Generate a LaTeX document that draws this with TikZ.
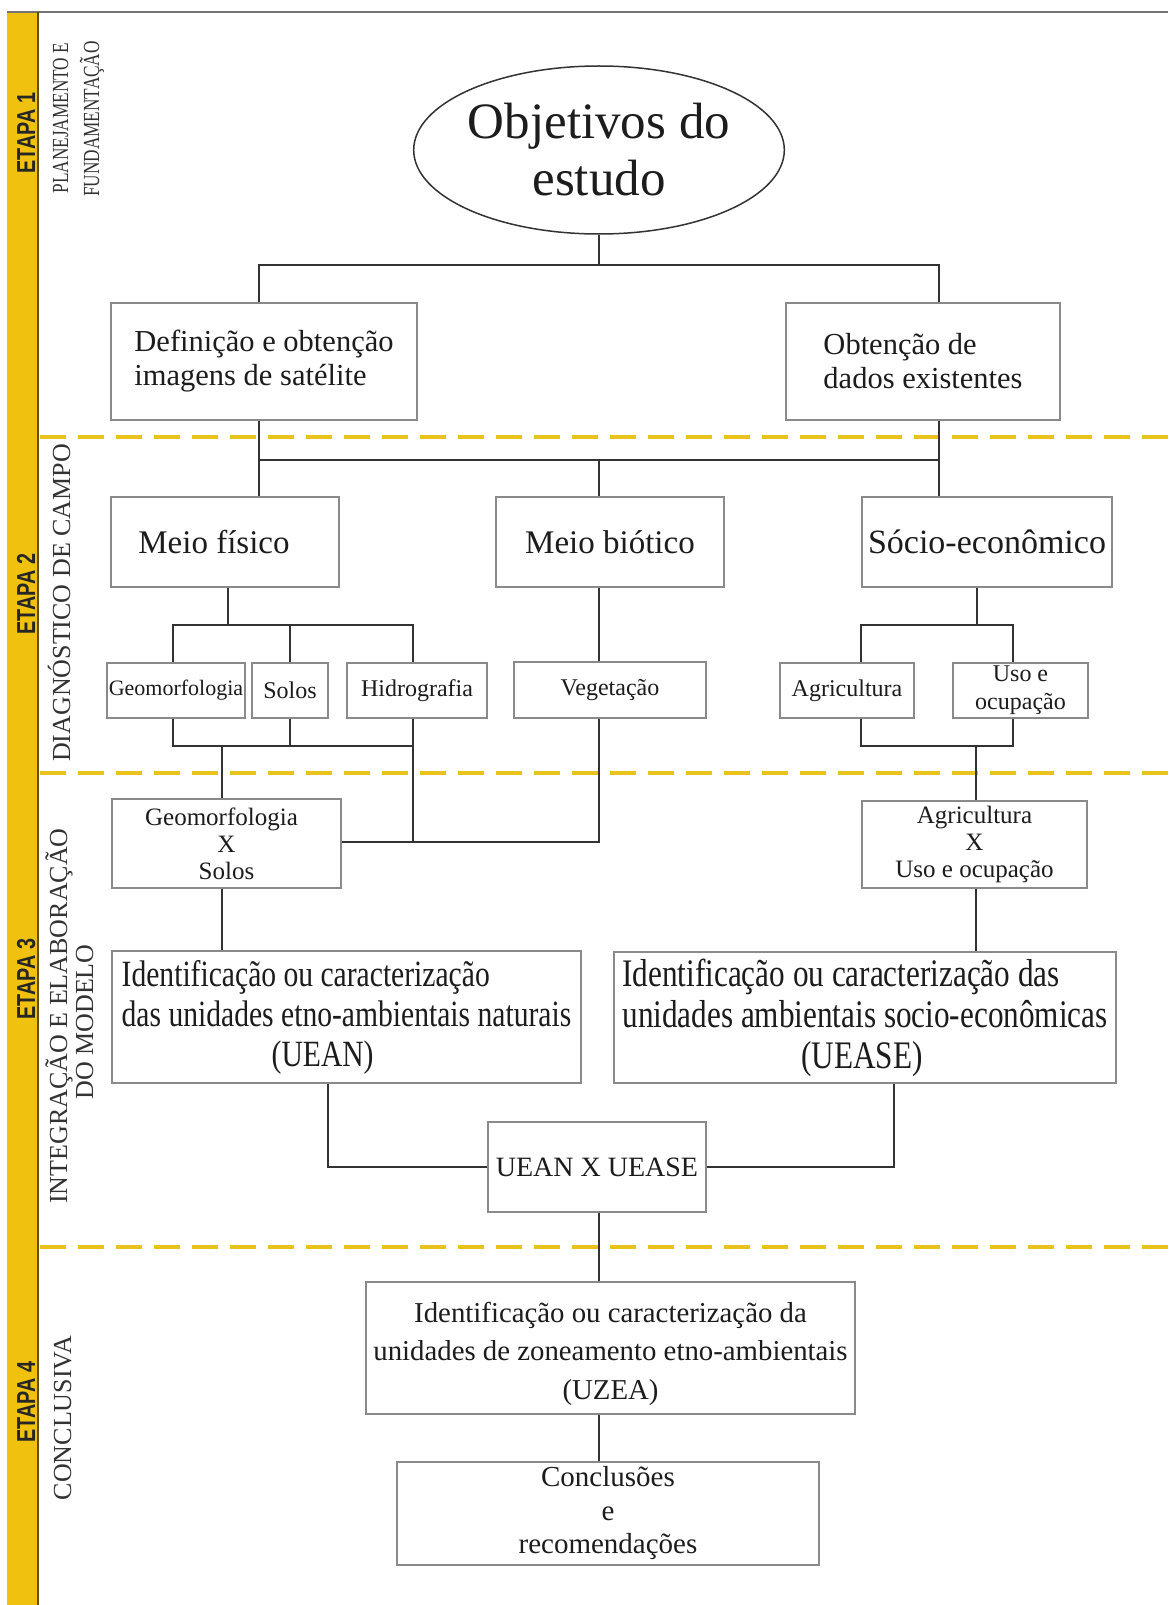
\documentclass[tikz,border=0pt]{standalone}
\usepackage{fontspec}
\setmainfont{Liberation Serif}
\newfontfamily\condA[FakeStretch=0.8]{Liberation Serif}
\newfontfamily\condB[FakeStretch=0.75]{Liberation Serif}
\newfontfamily\etapaf[FakeStretch=0.76]{Liberation Sans}
\usetikzlibrary{shapes.geometric}
\definecolor{barc}{HTML}{F0C10E}
\definecolor{dashc}{HTML}{E9C31C}
\definecolor{edgec}{HTML}{8A8A8A}
\definecolor{connc}{HTML}{333333}
\definecolor{txt}{HTML}{1C1C1C}
\newcommand\fs[2]{\fontsize{#1pt}{#2pt}\selectfont}
\begin{document}
\begin{tikzpicture}[x=1pt,y=-1pt,
  bx/.style={draw=edgec, line width=1.5pt, rectangle, inner sep=0pt, align=center, text=txt},
  ln/.style={draw=connc, line width=2.2pt},
  dl/.style={draw=dashc, line width=4pt, dash pattern=on 26pt off 12pt},
  etp/.style={rotate=90, anchor=base, inner sep=0pt, text=black!85, font=\etapaf\bfseries\fs{26}{26}},
  stg/.style={rotate=90, anchor=base, inner sep=0pt, text=black!80, font=\fs{26}{26}}]
\useasboundingbox (0,0) rectangle (1168,1605);
\fill[white] (0,0) rectangle (1168,1605);
% frame
\fill[barc] (7,12) rectangle (38,1605);
\draw[line width=2pt, black!55] (7,12) -- (1168,12);
\draw[line width=2pt, black!60!barc] (38,12) -- (38,1605);
% dashed separators
\draw[dl] (40,437) -- (1168,437);
\draw[dl] (40,773) -- (1168,773);
\draw[dl] (40,1247) -- (1168,1247);
% stage labels
\node[etp] (et1) at (35,133) {ETAPA 1};
\node[etp] (et2) at (35,594) {ETAPA 2};
\node[etp] (et3) at (35,979) {ETAPA 3};
\node[etp] (et4) at (35,1402) {ETAPA 4};
\node[stg, font=\condB\fs{23}{23}] (s1a) at (68,118) {PLANEJAMENTO E};
\node[stg, font=\condB\fs{23}{23}] (s1b) at (99,119) {FUNDAMENTAÇÃO};
\node[stg] (s2) at (70,603) {DIAGNÓSTICO DE CAMPO};
\node[stg] (s3a) at (67,1016) {INTEGRAÇÃO E ELABORAÇÃO};
\node[stg] (s3b) at (93,1022) {DO MODELO};
\node[stg] (s4) at (71,1418) {CONCLUSIVA};
% nodes
\node[ellipse, draw=connc, line width=1.5pt, inner sep=0pt, minimum width=364pt, minimum height=168pt,
      align=center, text=txt, font=\fs{51}{57}] (obj) at (599,150) {Objetivos do\\estudo};
\node[bx, align=left, minimum width=306pt, minimum height=117pt, font=\fs{30.5}{34}] (def) at (264,361.5)
  {Definição e obtenção\\imagens de satélite};
\node[bx, align=left, minimum width=274pt, minimum height=117pt, font=\fs{30.5}{34}] (obt) at (923,361.5)
  {Obtenção de\\dados existentes};
\node[bx, minimum width=228pt, minimum height=90pt, font=\fs{33}{33}] (mf) at (225,542) {Meio físico\hspace*{22pt}};
\node[bx, minimum width=228pt, minimum height=90pt, font=\fs{33}{33}] (mb) at (610,542) {Meio biótico};
\node[bx, minimum width=250pt, minimum height=90pt, font=\fs{34}{34}] (se) at (987,542) {Sócio-econômico};
\node[bx, minimum width=138pt, minimum height=55pt, font=\fs{22}{22}] (geo) at (176,690.5) {Geomorfologia};
\node[bx, minimum width=76pt, minimum height=55pt, font=\fs{24}{24}] (sol) at (290,690.5) {Solos};
\node[bx, minimum width=140pt, minimum height=55pt, font=\fs{24}{24}] (hid) at (417,690.5) {Hidrografia};
\node[bx, minimum width=192pt, minimum height=56pt, font=\fs{24}{24}] (veg) at (610,690) {Vegetação};
\node[bx, minimum width=134pt, minimum height=55pt, font=\fs{24}{24}] (agr) at (847,690.5) {Agricultura};
\node[bx, minimum width=135pt, minimum height=55pt, font=\fs{24}{28}] (uso) at (1020.5,690.5) {Uso e\\ocupação};
\node[bx, minimum width=229pt, minimum height=89pt, font=\fs{25}{27}] (gxs) at (226.5,843.5)
  {Geomorfologia\hspace*{10pt}\\X\\Solos};
\node[bx, minimum width=225pt, minimum height=87pt, font=\fs{25}{27}] (axu) at (974.5,844.5)
  {Agricultura\\X\\Uso e ocupação};
\node[bx, align=left, minimum width=469pt, minimum height=132pt, font=\condA\fs{37}{40}] (uean) at (346.5,1017)
  {Identificação ou caracterização\\das unidades etno-ambientais naturais\\\hspace*{150pt}(UEAN)};
\node[bx, align=left, minimum width=502pt, minimum height=131pt, font=\condA\fs{39}{41}] (uease) at (865,1017.5)
  {Identificação ou caracterização das\\unidades ambientais socio-econômicas\\\hspace*{179pt}(UEASE)};
\node[bx, minimum width=218pt, minimum height=90pt, font=\fs{28}{28}] (ux) at (597,1167) {UEAN X UEASE};
\node[bx, minimum width=489pt, minimum height=132pt, font=\fs{28.8}{38.5}] (uzea) at (610.5,1348)
  {\rule{0pt}{32pt}Identificação ou caracterização da\\unidades de zoneamento etno-ambientais\\(UZEA)};
\node[bx, minimum width=422pt, minimum height=103pt, font=\fs{29}{33.5}] (conc) at (608,1513.5)
  {Conclusões\\e\\recomendações};
% junction coordinates
\coordinate (a1) at (259,265); \coordinate (a2) at (939,265);
\coordinate (b1) at (259,460); \coordinate (b2) at (939,460); \coordinate (b3) at (599,460);
\coordinate (c0) at (228,625); \coordinate (c1) at (173,625); \coordinate (c2) at (290,625); \coordinate (c3) at (413,625);
\coordinate (e0) at (977,625); \coordinate (e1) at (861,625); \coordinate (e2) at (1013,625);
\coordinate (f0) at (222,746); \coordinate (f1) at (173,746); \coordinate (f2) at (290,746); \coordinate (f3) at (413,746);
\coordinate (g1) at (413,842); \coordinate (g2) at (599,842);
\coordinate (h0) at (976,746); \coordinate (h1) at (861,746); \coordinate (h2) at (1013,746);
\coordinate (m1) at (328,1167); \coordinate (m2) at (894,1167);
% connectors
\draw[ln] (obj.south) -- (obj.south |- a1);
\draw[ln] (def.north -| a1) -- (a1) -- (a2) -- (obt.north -| a2);
\draw[ln] (def.south -| b1) -- (mf.north -| b1);
\draw[ln] (obt.south -| b2) -- (se.north -| b2);
\draw[ln] (b1) -- (b2);
\draw[ln] (b3) -- (mb.north -| b3);
\draw[ln] (mf.south -| c0) -- (c0);
\draw[ln] (geo.north -| c1) -- (c1) -- (c3) -- (hid.north -| c3);
\draw[ln] (c2) -- (sol.north -| c2);
\draw[ln] (mb.south -| b3) -- (veg.north -| b3);
\draw[ln] (se.south -| e0) -- (e0);
\draw[ln] (agr.north -| e1) -- (e1) -- (e2) -- (uso.north -| e2);
\draw[ln] (geo.south -| f1) -- (f1) -- (f3);
\draw[ln] (sol.south -| f2) -- (f2);
\draw[ln] (hid.south -| f3) -- (g1);
\draw[ln] (f0) -- (gxs.north -| f0);
\draw[ln] (veg.south -| g2) -- (g2) -- (gxs.east |- g2);
\draw[ln] (agr.south -| h1) -- (h1) -- (h2) -- (uso.south -| h2);
\draw[ln] (h0) -- (axu.north -| h0);
\draw[ln] (gxs.south -| f0) -- (uean.north -| f0);
\draw[ln] (axu.south -| h0) -- (uease.north -| h0);
\draw[ln] (uean.south -| m1) -- (m1) -- (ux.west |- m1);
\draw[ln] (uease.south -| m2) -- (m2) -- (ux.east |- m2);
\draw[ln] (ux.south -| b3) -- (uzea.north -| b3);
\draw[ln] (uzea.south -| b3) -- (conc.north -| b3);
\end{tikzpicture}
\end{document}
